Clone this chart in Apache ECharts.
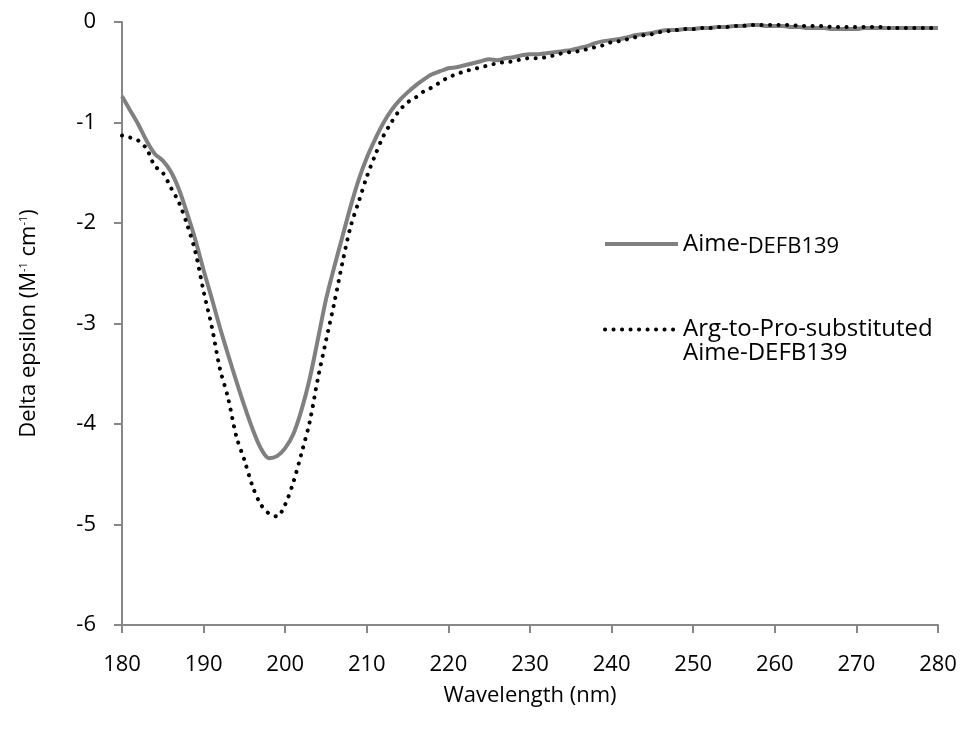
<!DOCTYPE html>
<html>
<head>
<meta charset="utf-8">
<script src="https://cdn.jsdelivr.net/npm/echarts@6/dist/echarts.min.js"></script>
<style>
  html, body { margin: 0; padding: 0; background: #fff; }
  #chart { width: 965px; height: 738px; }
</style>
</head>
<body>
<div id="chart"></div>
<script>
// wavelength (nm), 1 nm steps 180..280
const wavelengths = [];
for (let w = 180; w <= 280; w++) wavelengths.push(w);

// Aime-DEFB139 (solid grey)
const wildType = [
  -0.74, -0.88, -1.02, -1.18, -1.31, -1.38, -1.49, -1.67, -1.91, -2.17,
  -2.47, -2.75, -3.04, -3.31, -3.57, -3.82, -4.05, -4.24, -4.34, -4.32,
  -4.24, -4.10, -3.86, -3.55, -3.16, -2.76, -2.44, -2.14, -1.84, -1.57,
  -1.35, -1.17, -1.01, -0.88, -0.78, -0.70, -0.63, -0.57, -0.52, -0.49,
  -0.46, -0.45, -0.43, -0.41, -0.39, -0.37, -0.38, -0.36, -0.35, -0.33,
  -0.32, -0.32, -0.31, -0.30, -0.29, -0.28, -0.26, -0.24, -0.21, -0.19,
  -0.18, -0.17, -0.15, -0.13, -0.12, -0.11, -0.09, -0.08, -0.08, -0.07,
  -0.07, -0.06, -0.06, -0.05, -0.05, -0.04, -0.04, -0.03, -0.03, -0.04,
  -0.04, -0.04, -0.05, -0.05, -0.06, -0.06, -0.06, -0.07, -0.07, -0.07,
  -0.07, -0.06, -0.06, -0.06, -0.06, -0.06, -0.06, -0.06, -0.06, -0.06,
  -0.06
];

// Arg-to-Pro-substituted Aime-DEFB139 (dotted black)
const substituted = [
  -1.13, -1.15, -1.18, -1.26, -1.43, -1.50, -1.65, -1.80, -2.02, -2.29,
  -2.68, -3.03, -3.45, -3.74, -4.12, -4.36, -4.62, -4.80, -4.89, -4.92,
  -4.80, -4.58, -4.29, -3.98, -3.55, -3.17, -2.80, -2.40, -2.04, -1.79,
  -1.54, -1.33, -1.14, -1.00, -0.88, -0.80, -0.75, -0.69, -0.65, -0.60,
  -0.55, -0.52, -0.49, -0.47, -0.45, -0.43, -0.41, -0.40, -0.39, -0.37,
  -0.36, -0.36, -0.35, -0.33, -0.31, -0.30, -0.29, -0.27, -0.25, -0.23,
  -0.20, -0.19, -0.17, -0.15, -0.13, -0.12, -0.10, -0.09, -0.08, -0.07,
  -0.07, -0.06, -0.06, -0.05, -0.05, -0.04, -0.04, -0.03, -0.03, -0.03,
  -0.03, -0.03, -0.03, -0.04, -0.04, -0.04, -0.04, -0.05, -0.05, -0.05,
  -0.05, -0.05, -0.05, -0.05, -0.06, -0.06, -0.06, -0.06, -0.06, -0.06,
  -0.07
];

const seriesNames = ['Aime-DEFB139', 'Arg-to-Pro-substituted Aime-DEFB139'];

const FONT = '"Open Sans", sans-serif';
const axisGrey = '#878787';

const chart = echarts.init(document.getElementById('chart'));

chart.setOption({
  animation: false,
  backgroundColor: '#fff',
  textStyle: { fontFamily: FONT },
  grid: { left: 122, right: 27, top: 22, bottom: 113 },
  legend: {
    orient: 'vertical',
    left: 598,
    top: 227,
    itemWidth: 73,
    itemHeight: 14,
    itemGap: 36,
    itemStyle: { opacity: 0 },
    lineStyle: { width: 4 },
    textStyle: {
      fontFamily: FONT,
      fontSize: 24,
      color: '#000',
      rich: {
        a: { fontFamily: FONT, fontSize: 24, color: '#000' },
        b: { fontFamily: FONT, fontSize: 22, color: '#000', padding: [5, 0, 0, 0] },
        t: { fontFamily: FONT, fontSize: 24, color: '#000', lineHeight: 24 }
      }
    },
    data: seriesNames,
    // second label: blank first line so the icon sits on "Arg-to-Pro..."
    formatter: function (name) {
      if (name === seriesNames[0]) return '{a|Aime-}{b|DEFB139}';
      return '{t| }\n{t|Arg-to-Pro-substituted}\n{t|Aime-DEFB139}';
    }
  },
  xAxis: {
    type: 'value',
    min: 180,
    max: 280,
    interval: 10,
    name: 'Wavelength (nm)',
    nameLocation: 'middle',
    nameGap: 60,
    nameTextStyle: { fontFamily: FONT, fontSize: 22, color: '#000' },
    axisLine: { onZero: false, lineStyle: { color: axisGrey, width: 2 } },
    axisTick: { length: 8, lineStyle: { color: axisGrey, width: 2 } },
    axisLabel: { margin: 29, fontFamily: FONT, fontSize: 22, color: '#000' },
    splitLine: { show: false }
  },
  yAxis: {
    type: 'value',
    min: -6,
    max: 0,
    interval: 1,
    name: 'Delta epsilon (M{s|-1} cm{s|-1})',
    nameLocation: 'middle',
    nameGap: 82,
    nameTextStyle: {
      fontFamily: FONT,
      fontSize: 22,
      color: '#000',
      rich: {
        s: { fontFamily: FONT, fontSize: 11, color: '#000', padding: [0, 0, 11, 0] }
      }
    },
    axisLine: { onZero: false, lineStyle: { color: axisGrey, width: 2 } },
    axisTick: { length: 8, lineStyle: { color: axisGrey, width: 2 } },
    axisLabel: { margin: 26, fontFamily: FONT, fontSize: 22, color: '#000' },
    splitLine: { show: false }
  },
  series: [
    {
      name: seriesNames[0],
      type: 'line',
      symbol: 'none',
      smooth: 0.3,
      data: wavelengths.map((w, i) => [w, wildType[i]]),
      lineStyle: { color: '#808080', width: 4 },
      itemStyle: { color: '#808080' },
      z: 2
    },
    {
      name: seriesNames[1],
      type: 'line',
      symbol: 'none',
      smooth: 0.3,
      data: wavelengths.map((w, i) => [w, substituted[i]]),
      lineStyle: { color: '#000', width: 4, type: [0.1, 8.4], cap: 'round' },
      itemStyle: { color: '#000' },
      z: 3
    }
  ]
});
</script>
</body>
</html>
